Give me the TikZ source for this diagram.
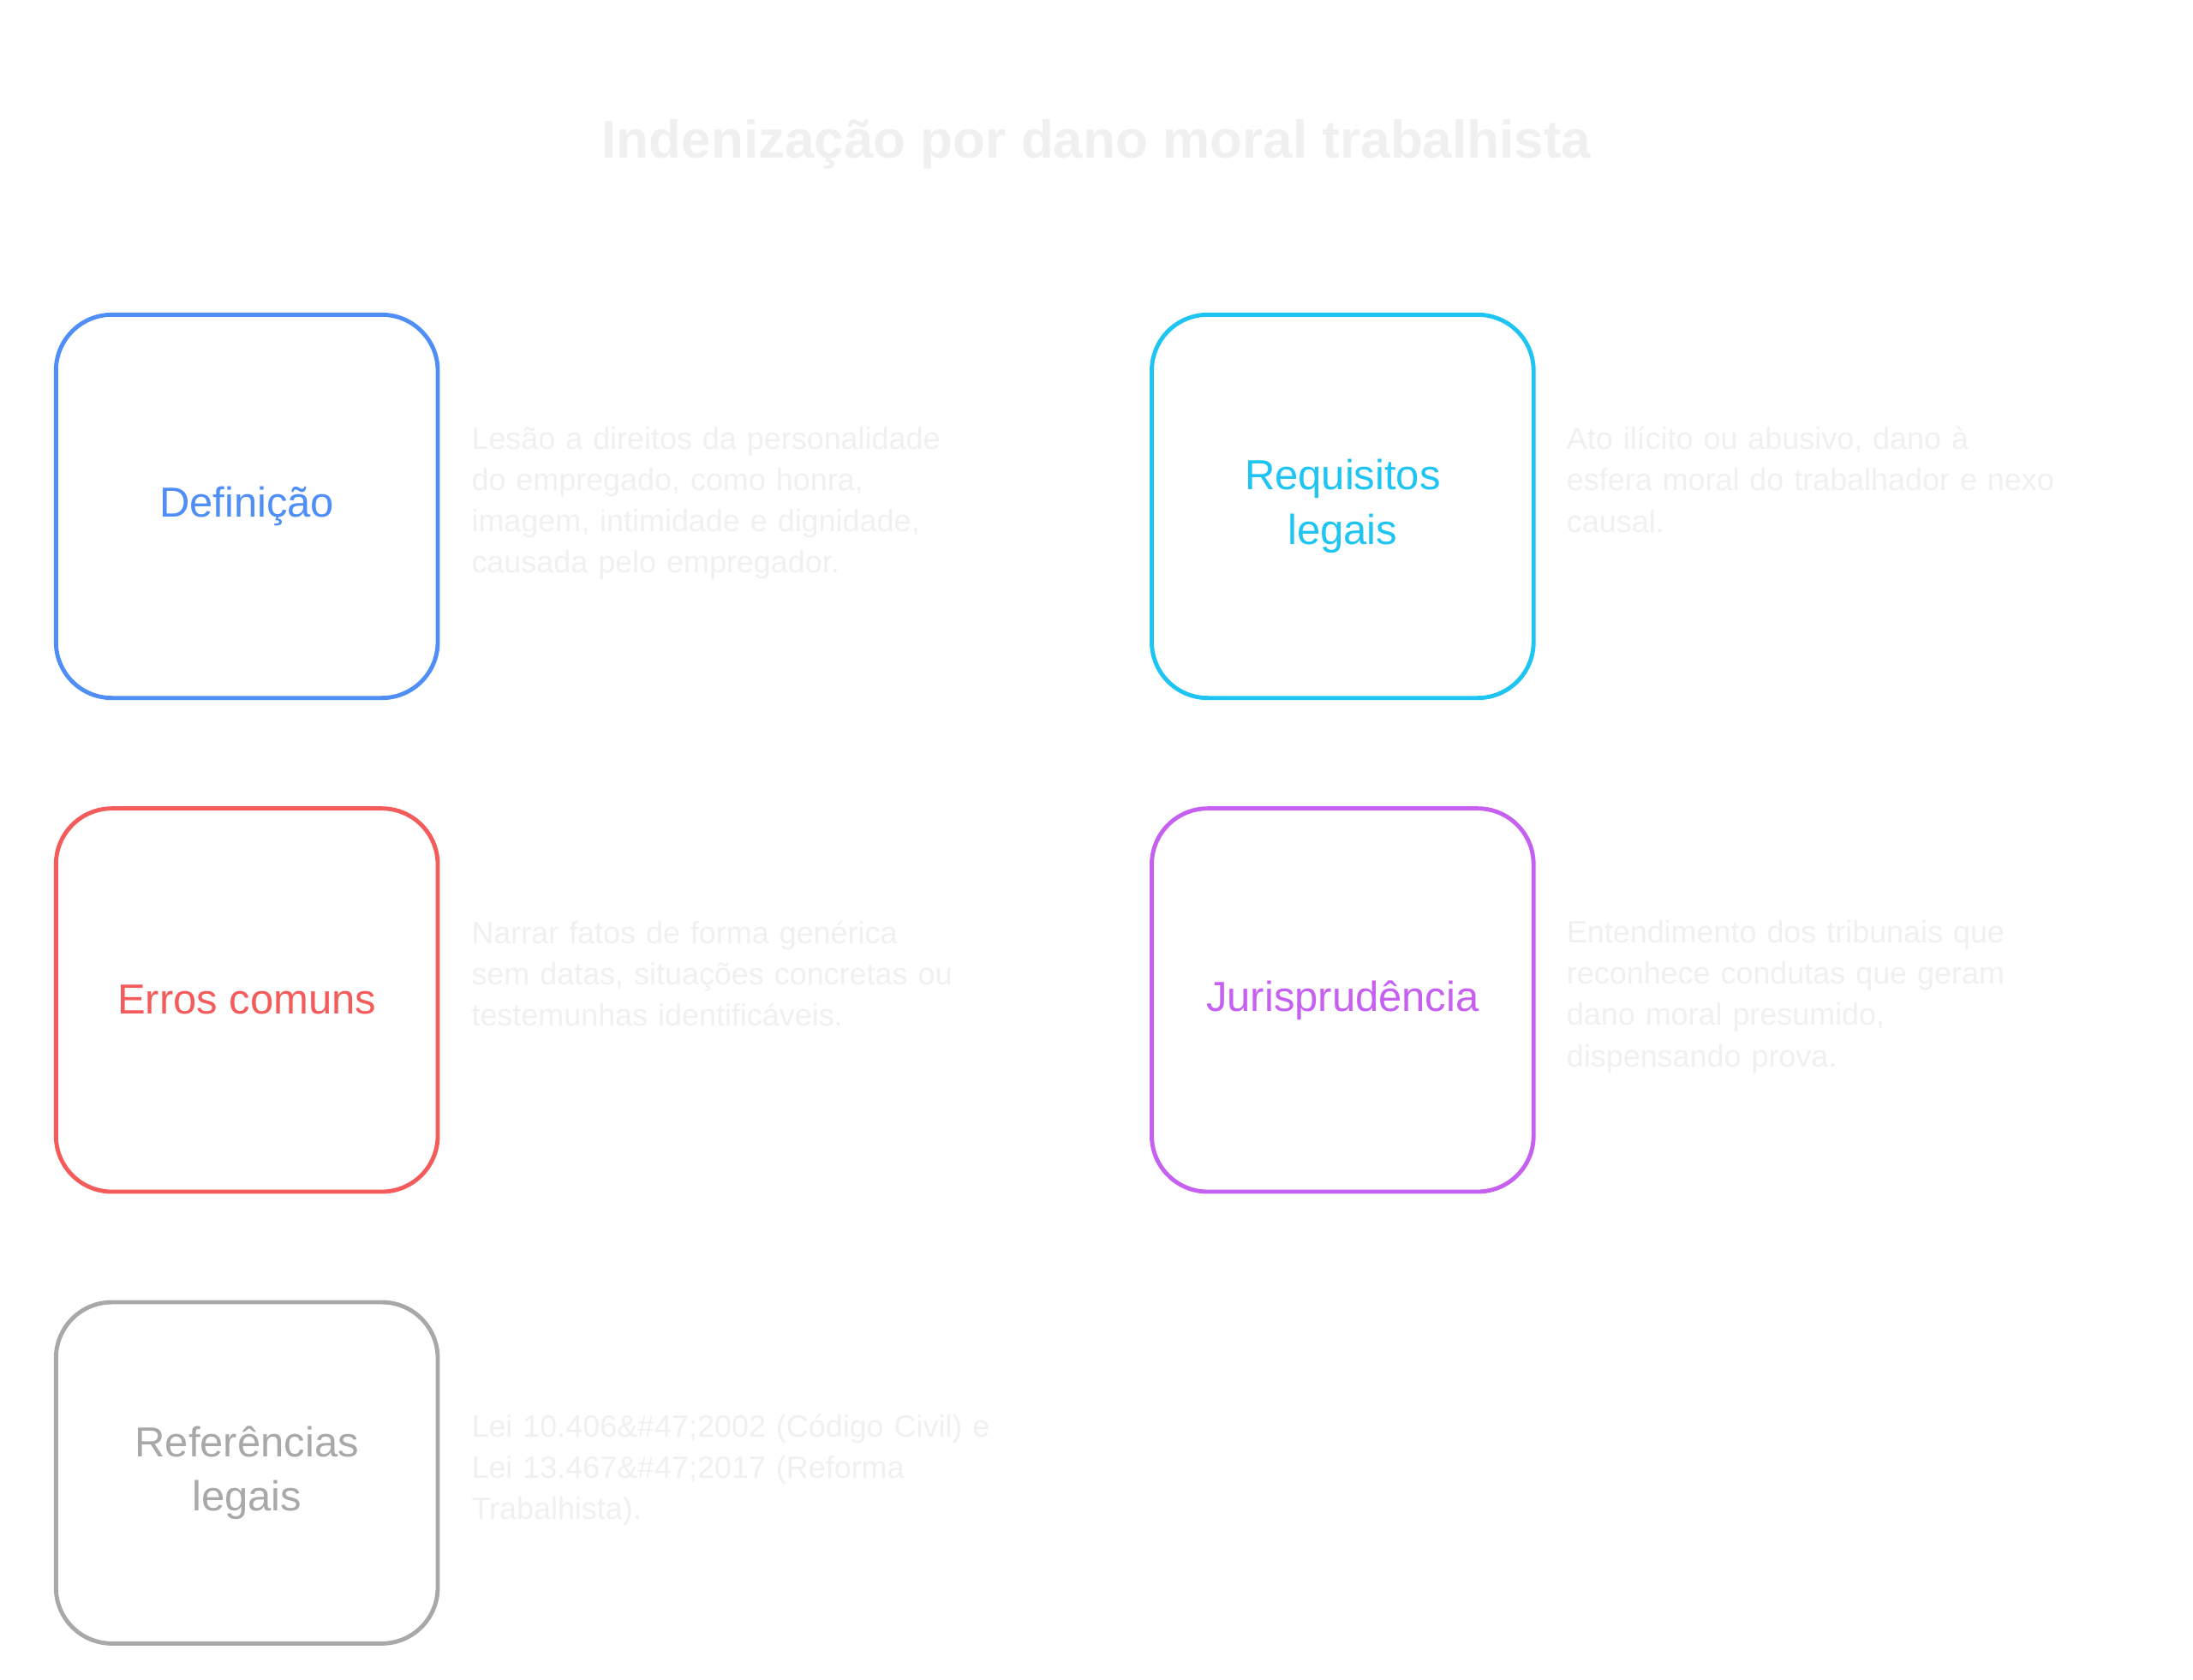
\documentclass[tikz,border=0pt]{standalone}
\usepackage{fontspec}
\setmainfont{Liberation Sans}
\usetikzlibrary{positioning}
\definecolor{defblue}{HTML}{4F8EF7}
\definecolor{reqcyan}{HTML}{1EC4F2}
\definecolor{errred}{HTML}{F45B5B}
\definecolor{jurpurple}{HTML}{C660F0}
\definecolor{refgray}{HTML}{A8A8A8}
\definecolor{faint}{HTML}{F0F0F0}
\begin{document}
\begin{tikzpicture}[x=1pt,y=-1pt,
    card/.style={draw, line width=3pt, rounded corners=40pt, minimum width=273pt, minimum height=274pt, inner sep=0pt, align=center, font=\fontsize{30}{39}\selectfont},
    note/.style={anchor=north west, inner sep=0pt, align=left, text width=420pt, text=faint, font=\fontsize{22}{29.5}\selectfont}]
    \useasboundingbox (0,0) rectangle (1568,1201);
    % title
    \node[text=faint, font=\fontsize{38}{44}\selectfont\bfseries] (title) at (784,103) {Indenização por dano moral trabalhista};
    % cards
    \node[card, draw=defblue, text=defblue] (def) at (176.5,362) {Definição};
    \node[card, draw=reqcyan, text=reqcyan] (req) at (960,362) {Requisitos\\legais};
    \node[card, draw=errred, text=errred] (err) at (176.5,715) {Erros comuns};
    \node[card, draw=jurpurple, text=jurpurple] (jur) at (960,715) {Jurisprudência};
    \node[card, draw=refgray, text=refgray, minimum height=244pt] (ref) at (176.5,1053) {Referências\\legais};
    % descriptions
    \node[note] (defnote) at (337,305) {Lesão a direitos da personalidade\\do empregado, como honra,\\imagem, intimidade e dignidade,\\causada pelo empregador.};
    \node[note] (reqnote) at (1120,305) {Ato ilícito ou abusivo, dano à\\esfera moral do trabalhador e nexo\\causal.};
    \node[note] (errnote) at (337,658) {Narrar fatos de forma genérica\\sem datas, situações concretas ou\\testemunhas identificáveis.};
    \node[note] (jurnote) at (1120,658) {Entendimento dos tribunais que\\reconhece condutas que geram\\dano moral presumido,\\dispensando prova.};
    \node[note] (refnote) at (337,1011) {Lei 10.406\&\#47;2002 (Código Civil) e\\Lei 13.467\&\#47;2017 (Reforma\\Trabalhista).};
\end{tikzpicture}
\end{document}
